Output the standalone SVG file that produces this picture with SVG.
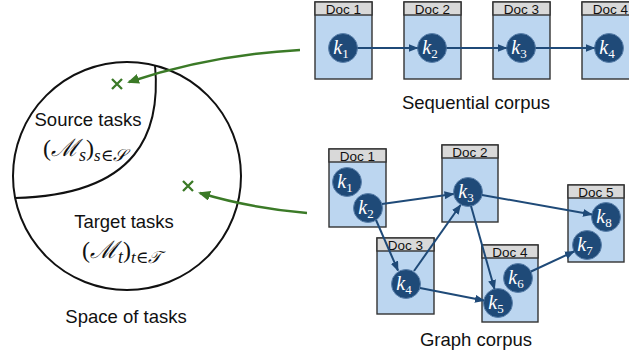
<svg xmlns="http://www.w3.org/2000/svg" width="629" height="356" viewBox="0 0 629 356">
<defs>
<marker id="ab" markerUnits="userSpaceOnUse" markerWidth="10" markerHeight="8" refX="9" refY="4" orient="auto"><path d="M0,0 L10,4 L0,8 Z" fill="#1f4a78"/></marker>
<marker id="ag" markerUnits="userSpaceOnUse" markerWidth="12" markerHeight="10" refX="10" refY="5" orient="auto"><path d="M0,0 L12,5 L0,10 Z" fill="#3b7a27"/></marker>
</defs>
<style>
.lbl{font-family:"Liberation Sans",Arial,sans-serif;font-size:18.5px;fill:#111;text-anchor:middle}
.doc rect.b{fill:#bcd6f0;stroke:#333;stroke-width:1.4}
.doc rect.h{fill:#d9d9d9;stroke:#333;stroke-width:1.4}
.doc text{font-family:"Liberation Sans",Arial,sans-serif;font-size:13.5px;fill:#111;text-anchor:middle}
.k circle{fill:#1f4a78;stroke:#5a80ab;stroke-width:1}
.k text{font-family:"Liberation Serif","DejaVu Serif",serif;font-style:italic;font-size:20px;fill:#fff;text-anchor:middle}
.k tspan{font-style:normal;font-size:13px}
.cb{stroke:#1f4a78;stroke-width:2;fill:none;marker-end:url(#ab)}
.cg{stroke:#3b7a27;stroke-width:2.5;fill:none;marker-end:url(#ag)}
.math{font-family:"Liberation Serif","DejaVu Serif",serif;font-size:24px;fill:#111}
.xm{stroke:#3b7a27;stroke-width:2.3}
</style>
<g id="space">
<circle cx="127" cy="176" r="114" fill="none" stroke="#111" stroke-width="2"/>
<path d="M155,65 C161,130 140,195 15,198" fill="none" stroke="#111" stroke-width="2"/>
<text class="lbl" x="88" y="126">Source tasks</text>
<text class="math" x="43" y="156">(<tspan font-style="italic">ℳ</tspan><tspan font-style="italic" font-size="18" dy="5">s</tspan><tspan dy="-5">)</tspan><tspan font-style="italic" font-size="17" dy="5">s∈𝒮</tspan></text>
<text class="lbl" x="124" y="228">Target tasks</text>
<text class="math" x="82" y="258">(<tspan font-style="italic">ℳ</tspan><tspan font-style="italic" font-size="18" dy="5">t</tspan><tspan dy="-5">)</tspan><tspan font-style="italic" font-size="17" dy="5">t∈𝒯</tspan></text>
<text class="lbl" x="126" y="323">Space of tasks</text>
<path class="xm" d="M112,79 L122,89 M122,79 L112,89"/>
<path class="xm" d="M183,181 L193,191 M193,181 L183,191"/>
</g>
<g id="seq">
<g id="s-doc1" class="doc"><rect class="b" x="315" y="2" width="57" height="77"/><rect class="h" x="315" y="2" width="57" height="13"/><text x="343.5" y="13.5">Doc 1</text></g>
<g id="s-doc2" class="doc"><rect class="b" x="404" y="2" width="57" height="77"/><rect class="h" x="404" y="2" width="57" height="13"/><text x="432.5" y="13.5">Doc 2</text></g>
<g id="s-doc3" class="doc"><rect class="b" x="493" y="2" width="57" height="77"/><rect class="h" x="493" y="2" width="57" height="13"/><text x="521.5" y="13.5">Doc 3</text></g>
<g id="s-doc4" class="doc"><rect class="b" x="582" y="2" width="57" height="77"/><rect class="h" x="582" y="2" width="57" height="13"/><text x="610.5" y="13.5">Doc 4</text></g>
<g id="s-k1" class="k"><circle cx="343" cy="48" r="14.5"/><text x="341" y="54">k<tspan dy="4">1</tspan></text></g>
<g id="s-k2" class="k"><circle cx="432" cy="48" r="14.5"/><text x="430" y="54">k<tspan dy="4">2</tspan></text></g>
<g id="s-k3" class="k"><circle cx="521" cy="48" r="14.5"/><text x="519" y="54">k<tspan dy="4">3</tspan></text></g>
<g id="s-k4" class="k"><circle cx="609" cy="48" r="14.5"/><text x="607" y="54">k<tspan dy="4">4</tspan></text></g>
<text class="lbl" x="476" y="109">Sequential corpus</text>
</g>
<g id="graph">
<g id="g-doc1" class="doc"><rect class="b" x="329" y="149" width="57" height="78"/><rect class="h" x="329" y="149" width="57" height="13"/><text x="357.5" y="160.5">Doc 1</text></g>
<g id="g-doc2" class="doc"><rect class="b" x="442" y="145" width="56" height="77"/><rect class="h" x="442" y="145" width="56" height="13"/><text x="470" y="156.5">Doc 2</text></g>
<g id="g-doc3" class="doc"><rect class="b" x="377" y="238" width="57" height="76"/><rect class="h" x="377" y="238" width="57" height="13"/><text x="405.5" y="249.5">Doc 3</text></g>
<g id="g-doc4" class="doc"><rect class="b" x="482" y="245" width="56" height="77"/><rect class="h" x="482" y="245" width="56" height="13"/><text x="510" y="256.5">Doc 4</text></g>
<g id="g-doc5" class="doc"><rect class="b" x="568" y="185" width="56" height="77"/><rect class="h" x="568" y="185" width="56" height="13"/><text x="596" y="196.5">Doc 5</text></g>
<g id="g-k1" class="k"><circle cx="347" cy="182" r="14.5"/><text x="345" y="188">k<tspan dy="4">1</tspan></text></g>
<g id="g-k2" class="k"><circle cx="368" cy="208" r="14.5"/><text x="366" y="214">k<tspan dy="4">2</tspan></text></g>
<g id="g-k3" class="k"><circle cx="468" cy="192" r="14.5"/><text x="466" y="198">k<tspan dy="4">3</tspan></text></g>
<g id="g-k4" class="k"><circle cx="406" cy="284" r="14.5"/><text x="404" y="290">k<tspan dy="4">4</tspan></text></g>
<g id="g-k5" class="k"><circle cx="498" cy="303" r="14.5"/><text x="496" y="309">k<tspan dy="4">5</tspan></text></g>
<g id="g-k6" class="k"><circle cx="518" cy="278" r="14.5"/><text x="516" y="284">k<tspan dy="4">6</tspan></text></g>
<g id="g-k7" class="k"><circle cx="587" cy="245" r="14.5"/><text x="585" y="251">k<tspan dy="4">7</tspan></text></g>
<g id="g-k8" class="k"><circle cx="606" cy="217" r="14.5"/><text x="604" y="223">k<tspan dy="4">8</tspan></text></g>
<text class="lbl" x="476" y="346">Graph corpus</text>
</g>
<g id="connectors">
<path class="cg" d="M300,50 Q210,55 129,82"/>
<path class="cg" d="M307,213 Q250,208 200,193"/>
<path class="cb" d="M357.5,48 L417.5,48"/>
<path class="cb" d="M446.5,48 L506.5,48"/>
<path class="cb" d="M535.5,48 L594.5,48"/>
<path class="cb" d="M382,204 L453.5,194"/>
<path class="cb" d="M376,220 L398,270.5"/>
<path class="cb" d="M414,271 L460.5,205"/>
<path class="cb" d="M420,288 L484,300.5"/>
<path class="cb" d="M471,206 L494.5,289"/>
<path class="cb" d="M482,195 L592,214.5"/>
<path class="cb" d="M531,271.5 L574,251.5"/>
</g>
</svg>
